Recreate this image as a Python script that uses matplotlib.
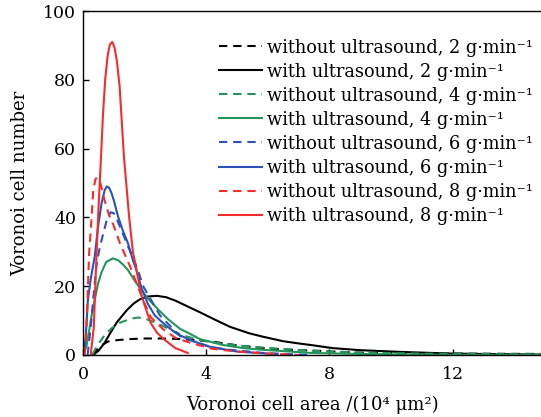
import matplotlib
matplotlib.use('Agg')
import matplotlib.pyplot as plt

# area in 10^4 um^2, count of voronoi cells
x_2_wo = [0.3, 0.45, 0.6, 0.81, 1.1, 1.46, 2.0, 2.54, 3.0, 3.4, 4.2, 5.0, 5.96, 7.0, 7.7, 8.1, 9.2, 10.3, 12.0, 15.0]
y_2_wo = [0, 1.5, 2.8, 3.9, 4.3, 4.6, 4.8, 4.8, 4.7, 4.5, 3.9, 2.8, 1.9, 1.4, 1.2, 1.0, 0.6, 0.5, 0.4, 0.3]

x_2_w = [0.33, 0.5, 0.7, 0.88, 1.1, 1.42, 1.65, 1.85, 2.1, 2.4, 2.7, 3.0, 3.47, 3.8, 4.3, 4.77, 5.4, 5.85, 6.5, 7.05, 7.4, 8.1, 9.0, 10.3, 12.0, 15.0]
y_2_w = [0, 1.2, 3.5, 6.3, 9.5, 13.0, 15.0, 16.2, 17.0, 17.2, 16.8, 15.8, 13.8, 12.4, 10.2, 8.2, 6.3, 5.3, 4.0, 3.3, 2.9, 2.0, 1.4, 0.9, 0.4, 0.1]

x_4_wo = [0.3, 0.44, 0.6, 0.75, 0.92, 1.2, 1.57, 1.8, 2.0, 2.3, 2.65, 3.0, 3.4, 3.8, 4.2, 5.2, 6.4, 7.5, 9.0, 11.0, 15.0]
y_4_wo = [0, 2.4, 4.5, 6.3, 7.7, 9.4, 10.6, 10.9, 10.6, 9.6, 8.2, 6.6, 5.3, 4.3, 3.7, 2.6, 1.8, 1.2, 0.7, 0.4, 0.2]

x_4_w = [0.0, 0.11, 0.2, 0.27, 0.38, 0.49, 0.6, 0.75, 0.97, 1.15, 1.3, 1.46, 1.65, 1.89, 2.15, 2.43, 2.75, 3.15, 3.4, 3.8, 4.55, 5.2, 5.85, 7.4, 9.0, 11.0, 15.0]
y_4_w = [0, 2.4, 7.0, 11.0, 16.0, 20.8, 24.0, 27.0, 28.1, 27.5, 26.3, 24.7, 22.0, 18.9, 16.0, 13.3, 10.5, 7.6, 6.5, 4.6, 2.9, 2.0, 1.5, 0.6, 0.3, 0.1, 0.0]

x_6_wo = [0.15, 0.25, 0.35, 0.45, 0.55, 0.65, 0.78, 0.9, 1.0, 1.1, 1.42, 1.74, 1.96, 2.5, 3.15, 3.58, 4.2, 4.66, 5.85, 6.8, 7.4]
y_6_wo = [0, 8.0, 18.0, 27.0, 31.5, 35.0, 39.5, 41.5, 41.2, 39.5, 32.5, 25.7, 19.9, 11.5, 5.5, 4.0, 2.2, 1.6, 0.6, 0.2, 0.0]

x_6_w = [0.0, 0.05, 0.1, 0.16, 0.25, 0.38, 0.49, 0.6, 0.7, 0.77, 0.85, 0.92, 1.0, 1.14, 1.3, 1.46, 1.62, 1.74, 1.9, 2.1, 2.33, 2.7, 3.08, 3.5, 4.06, 5.0, 6.3]
y_6_w = [0, 1.5, 7.0, 16.0, 22.0, 28.6, 37.3, 44.0, 47.8, 49.0, 48.6, 47.2, 45.0, 40.2, 36.0, 32.5, 27.6, 24.5, 19.5, 15.0, 11.5, 8.5, 6.0, 4.3, 2.5, 1.0, 0.2]

x_8_wo = [0.05, 0.1, 0.13, 0.2, 0.28, 0.33, 0.4, 0.45, 0.55, 0.7, 0.85, 0.98, 1.2, 1.53, 1.73, 2.0, 2.2, 2.6, 3.0, 3.5, 4.2, 5.0, 5.85, 7.0]
y_8_wo = [0, 5.0, 12.0, 29.6, 40.0, 47.5, 51.0, 51.6, 50.5, 45.0, 40.5, 38.0, 32.5, 25.7, 21.0, 15.0, 11.0, 7.5, 5.0, 3.5, 1.8, 1.0, 0.5, 0.0]

x_8_w = [0.25, 0.35, 0.42, 0.5, 0.58, 0.65, 0.72, 0.8, 0.87, 0.95, 1.02, 1.1, 1.19, 1.33, 1.5, 1.62, 1.74, 1.88, 2.0, 2.2, 2.4, 2.65, 3.0, 3.4]
y_8_w = [0, 8.0, 24.7, 42.0, 56.7, 70.0, 80.0, 87.0, 90.2, 91.0, 89.5, 85.5, 78.0, 57.5, 40.0, 30.0, 24.7, 18.0, 14.5, 9.3, 6.5, 4.4, 2.0, 0.6]

series = [
    (x_2_wo, y_2_wo, 'black', '--', 'without ultrasound, 2 g·min⁻¹'),
    (x_2_w, y_2_w, 'black', '-', 'with ultrasound, 2 g·min⁻¹'),
    (x_4_wo, y_4_wo, '#25945c', '--', 'without ultrasound, 4 g·min⁻¹'),
    (x_4_w, y_4_w, '#25945c', '-', 'with ultrasound, 4 g·min⁻¹'),
    (x_6_wo, y_6_wo, '#2a52b8', '--', 'without ultrasound, 6 g·min⁻¹'),
    (x_6_w, y_6_w, '#2a52b8', '-', 'with ultrasound, 6 g·min⁻¹'),
    (x_8_wo, y_8_wo, '#f52c2c', '--', 'without ultrasound, 8 g·min⁻¹'),
    (x_8_w, y_8_w, '#f52c2c', '-', 'with ultrasound, 8 g·min⁻¹'),
]

plt.rcParams['font.family'] = ['DejaVu Serif']
plt.rcParams['font.size'] = 12

fig = plt.figure(figsize=(5.41, 4.17), dpi=100)
ax = fig.add_axes([0.1534, 0.1487, 0.8466, 0.8249])

for xs, ys, c, ls, lab in series:
    if ls == '--':
        ax.plot(xs, ys, color=c, linewidth=1.5, label=lab, dashes=(4, 2.8))
    else:
        ax.plot(xs, ys, color=c, linewidth=1.5, label=lab)

ax.set_xlim(0, 14.87)
ax.set_ylim(0, 100)
ax.set_xticks([0, 4, 8, 12])
ax.set_yticks([0, 20, 40, 60, 80, 100])
ax.tick_params(direction='in', length=4, width=1, labelsize=12.5)
ax.tick_params(axis='x', pad=8)
ax.tick_params(axis='y', pad=5)
ax.spines['right'].set_visible(False)
for s in ['left', 'top', 'bottom']:
    ax.spines[s].set_linewidth(1)

ax.set_xlabel('Voronoi cell area /(10⁴ μm²)', fontsize=13, labelpad=9)
ax.set_ylabel('Voronoi cell number', fontsize=13, labelpad=10)

ax.legend(loc='upper right', frameon=False, fontsize=12.8, handlelength=2.4,
          handletextpad=0.3, labelspacing=0.34, borderpad=0, borderaxespad=0,
          bbox_to_anchor=(0.983, 0.92))

fig.savefig('out.png', dpi=100)
